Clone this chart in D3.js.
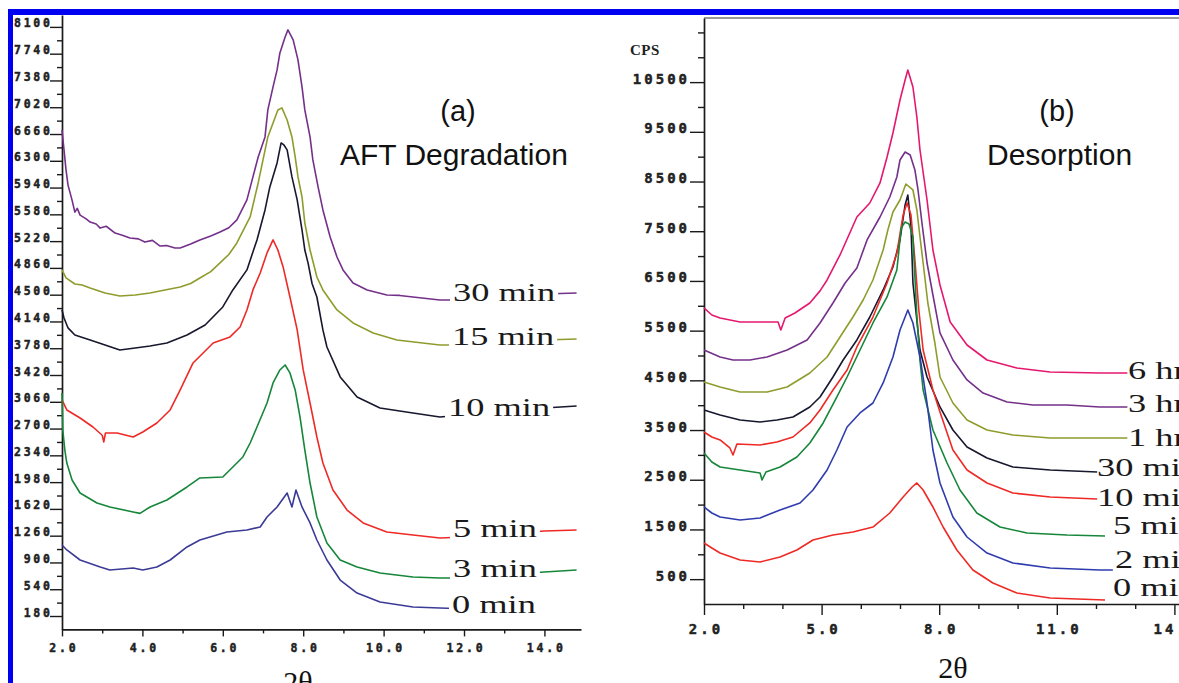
<!DOCTYPE html>
<html><head><meta charset="utf-8">
<script src="https://cdn.jsdelivr.net/npm/d3@7"></script>
<style>body{margin:0;background:#fff;} svg{display:block;}</style>
</head><body>
<svg id="c" width="1179" height="683"></svg>
<script>
// ---------- Panel (a): AFT Degradation ----------
const aftLabels = ["30 min","15 min","10 min","5 min","3 min","0 min"];
const aftColors = ["#74308a","#8f9c2c","#17172e","#ee2a26","#16863a","#3b3b97"];
const aft30 = [[2.0,6716],[2.05,6447],[2.1,6178],[2.15,5973],[2.25,5771],[2.32,5610],[2.38,5660],[2.45,5570],[2.6,5520],[2.7,5476],[2.85,5450],[2.95,5395],[3.1,5420],[3.32,5328],[3.5,5300],[3.69,5261],[3.9,5250],[4.06,5207],[4.25,5230],[4.44,5154],[4.6,5160],[4.81,5127],[4.94,5128],[5.2,5180],[5.43,5236],[5.7,5290],[5.93,5343],[6.15,5400],[6.35,5505],[6.6,5774],[6.73,6043],[6.88,6352],[7.05,6621],[7.12,6984],[7.25,7293],[7.35,7522],[7.42,7750],[7.55,7965],[7.62,8060],[7.75,7925],[7.87,7656],[7.97,7293],[8.04,6984],[8.17,6621],[8.24,6312],[8.37,5949],[8.49,5639],[8.67,5276],[8.84,5007],[8.99,4833],[9.24,4658],[9.59,4564],[10.08,4496],[10.4,4490],[10.73,4469],[11.4,4429],[12,4429],[13,4469],[14,4510],[14.8,4523]];
const aft15 = [[2.0,4833],[2.1,4725],[2.32,4644],[2.5,4630],[2.7,4590],[3.07,4523],[3.44,4483],[3.82,4496],[4.19,4523],[4.56,4564],[4.94,4604],[5.2,4650],[5.43,4725],[5.7,4810],[5.93,4927],[6.15,5040],[6.35,5195],[6.68,5545],[6.88,6002],[7.0,6312],[7.12,6621],[7.25,6809],[7.37,6984],[7.47,7011],[7.6,6849],[7.72,6621],[7.8,6352],[7.87,6083],[7.97,5814],[8.04,5464],[8.17,5101],[8.34,4738],[8.49,4564],[8.84,4295],[9.24,4120],[9.74,3985],[10.33,3891],[11.4,3824],[12,3824],[13,3851],[14,3891],[14.8,3905]];
const aft10 = [[2.0,4295],[2.05,4187],[2.15,4053],[2.32,3958],[2.7,3891],[3.07,3824],[3.44,3757],[3.82,3784],[4.19,3811],[4.61,3851],[5.11,3958],[5.56,4093],[6.0,4335],[6.25,4564],[6.6,4833],[6.85,5236],[7.05,5639],[7.17,5949],[7.35,6271],[7.45,6540],[7.52,6513],[7.6,6446],[7.72,6083],[7.85,5774],[7.97,5370],[8.04,5100],[8.12,4927],[8.22,4650],[8.34,4469],[8.49,4026],[8.59,3797],[8.92,3394],[9.34,3125],[9.91,2977],[10.73,2910],[11.4,2856],[12,2883],[13,2937],[14,2977],[14.8,3004]];
const aft5 = [[2.0,3085],[2.12,2950],[2.45,2842],[2.77,2721],[3.0,2610],[3.04,2520],[3.08,2640],[3.37,2641],[3.77,2587],[4.01,2654],[4.36,2775],[4.69,2950],[4.94,3219],[5.26,3582],[5.76,3851],[6.18,3932],[6.43,4066],[6.6,4295],[6.75,4564],[6.93,4792],[7.1,5061],[7.25,5236],[7.37,5101],[7.5,4873],[7.67,4469],[7.85,4026],[8.0,3488],[8.17,3044],[8.34,2587],[8.49,2237],[8.74,1874],[9.09,1605],[9.49,1431],[10.08,1310],[10.73,1269],[11.4,1229],[12,1242],[13,1283],[14,1323],[14.8,1337]];
const aft3 = [[2.0,3179],[2.02,2681],[2.07,2412],[2.12,2237],[2.25,2009],[2.45,1834],[2.87,1700],[3.19,1646],[3.77,1579],[3.94,1560],[4.19,1646],[4.61,1740],[5.11,1915],[5.43,2036],[6.0,2049],[6.5,2318],[6.68,2506],[6.85,2721],[7.1,3044],[7.25,3313],[7.42,3488],[7.55,3555],[7.67,3448],[7.8,3219],[7.92,2856],[8.04,2412],[8.17,1968],[8.34,1511],[8.59,1162],[8.92,933],[9.34,839],[9.91,758],[10.73,705],[11.4,691],[12,691],[13,732],[14,772],[14.8,799]];
const aft0 = [[2.0,1135],[2.12,1068],[2.45,933],[2.95,839],[3.19,799],[3.77,826],[4.01,799],[4.36,839],[4.69,933],[5.11,1108],[5.43,1202],[6.1,1310],[6.6,1337],[6.93,1377],[7.1,1511],[7.35,1646],[7.6,1834],[7.72,1646],[7.82,1874],[7.97,1646],[8.17,1431],[8.34,1202],[8.59,933],[8.92,664],[9.34,489],[9.91,368],[10.73,301],[11.4,288],[11.75,280]];
const aftSeries = [aft30, aft15, aft10, aft5, aft3, aft0];
const aftYTicks = [180,540,900,1260,1620,1980,2340,2700,3060,3420,3780,4140,4500,4860,5220,5580,5940,6300,6660,7020,7380,7740,8100];
const aftXTicks = [2,4,6,8,10,12,14];
const aftXMinor = [3,5,7,9,11,13];

// ---------- Panel (b): Desorption ----------
const desLabels = ["6 hr","3 hr","1 hr","30 min","10 min","5 min","2 min","0 min"];
const desColors = ["#e5186f","#74308a","#8f9c2c","#17172e","#ee2a26","#16863a","#2e3cae","#ee2a26"];
const des6h = [[2.0,5956],[2.2,5815],[2.41,5754],[2.92,5674],[3.43,5674],[3.89,5674],[3.96,5513],[4.07,5754],[4.32,5855],[4.7,6056],[4.96,6300],[5.14,6519],[5.47,7022],[5.9,7786],[6.23,8068],[6.49,8471],[6.67,8994],[6.82,9477],[7.0,10140],[7.13,10543],[7.2,10744],[7.33,10402],[7.43,9798],[7.51,9134],[7.69,8128],[7.84,7122],[8.02,6418],[8.28,5674],[8.71,5211],[9.22,4909],[9.98,4748],[10.83,4668],[12.1,4648],[12.8,4648]];
const des3h = [[2.0,5110],[2.41,4970],[2.74,4909],[3.17,4909],[3.61,4970],[4.12,5110],[4.63,5312],[4.96,5654],[5.29,6056],[5.6,6459],[5.9,6760],[6.16,7324],[6.49,7786],[6.74,8189],[6.92,8591],[7.0,8933],[7.13,9094],[7.26,9034],[7.38,8732],[7.46,8330],[7.56,7666],[7.69,6861],[7.84,6217],[8.02,5453],[8.35,4909],[8.71,4507],[9.12,4245],[9.73,4064],[10.39,4004],[11.26,4004],[12.1,3964],[12.8,3964]];
const des1h = [[2.0,4467],[2.41,4366],[2.92,4265],[3.61,4265],[4.12,4366],[4.7,4648],[5.14,4970],[5.47,5372],[5.8,5774],[6.06,6116],[6.31,6519],[6.57,7122],[6.69,7525],[6.82,7887],[7.0,8128],[7.15,8450],[7.33,8330],[7.43,7927],[7.51,7384],[7.59,6861],[7.71,6056],[7.89,5251],[8.02,4567],[8.35,4044],[8.71,3702],[9.22,3501],[9.88,3400],[10.83,3340],[12.1,3340],[12.8,3340]];
const des30 = [[2.0,3903],[2.41,3803],[2.92,3702],[3.43,3662],[3.86,3702],[4.27,3762],[4.7,3964],[4.96,4165],[5.29,4567],[5.55,4909],[5.9,5312],[6.23,5774],[6.57,6318],[6.82,6780],[7.0,7324],[7.13,8028],[7.2,8229],[7.28,7600],[7.33,6459],[7.51,5110],[7.69,4567],[8.02,3964],[8.35,3501],[8.71,3159],[9.22,2938],[9.88,2756],[10.83,2696],[12.03,2656]];
const des10 = [[2.0,3461],[2.2,3360],[2.41,3300],[2.66,3139],[2.74,2998],[2.84,3219],[3.43,3199],[3.86,3259],[4.27,3360],[4.7,3642],[4.96,3903],[5.29,4306],[5.65,4708],[5.9,5171],[6.31,5774],[6.67,6459],[6.92,7062],[7.08,7827],[7.18,8068],[7.28,7827],[7.38,6921],[7.48,5915],[7.59,5110],[7.84,4306],[8.02,3863],[8.35,3098],[8.71,2696],[9.22,2435],[9.88,2233],[10.83,2153],[12.03,2113]];
const des5 = [[2.0,3038],[2.2,2857],[2.41,2756],[2.92,2696],[3.43,2636],[3.48,2495],[3.58,2656],[3.94,2756],[4.37,2958],[4.7,3239],[5.04,3642],[5.39,4165],[5.65,4567],[5.98,5110],[6.31,5654],[6.67,6177],[6.92,6720],[7.03,7565],[7.13,7686],[7.23,7646],[7.33,7384],[7.43,5800],[7.51,4900],[7.59,4306],[7.84,3501],[8.2,2837],[8.53,2294],[8.96,1831],[9.55,1549],[10.24,1429],[11.26,1388],[12.23,1368]];
const des2 = [[2.0,1952],[2.2,1831],[2.41,1750],[2.92,1690],[3.43,1730],[3.94,1891],[4.45,2032],[4.78,2294],[5.14,2696],[5.39,3098],[5.65,3561],[5.98,3843],[6.31,4044],[6.57,4447],[6.82,4970],[7.0,5513],[7.13,5774],[7.2,5915],[7.33,5654],[7.51,4970],[7.69,4044],[7.84,3098],[8.02,2435],[8.35,1750],[8.71,1348],[9.22,1026],[9.88,825],[10.83,724],[12.1,684],[12.43,684]];
const des0 = [[2.0,1227],[2.2,1127],[2.41,1026],[2.92,885],[3.43,845],[3.94,946],[4.37,1086],[4.78,1288],[5.29,1388],[5.8,1449],[6.31,1549],[6.74,1831],[7.08,2153],[7.31,2354],[7.43,2435],[7.59,2294],[7.84,1952],[8.1,1549],[8.45,1086],[8.86,684],[9.37,423],[9.98,221],[10.83,121],[12.23,80]];
const desSeries = [des6h, des3h, des1h, des30, des10, des5, des2, des0];
const desYTicks = [500,1500,2500,3500,4500,5500,6500,7500,8500,9500,10500];
const desYMinor = [1000,2000,3000,4000,5000,6000,7000,8000,9000,10000,11000,11500];
const desXTicks = [2,5,8,11,14];
const desXMinor = [3,4,6,7,9,10,12,13];

// ---------- drawing ----------
const svg = d3.select('#c');
const tickFont = "'DejaVu Sans Mono', monospace";

const xA = d3.scaleLinear().domain([2, 14.91]).range([62, 581]);
const yA = d3.scaleLinear().domain([0, 8260]).range([629.4, 15]);
const xB = d3.scaleLinear().domain([2, 14.75]).range([704, 1203.8]);
const yB = d3.scaleLinear().domain([0, 11790]).range([604, 18]);

function styleAxis(g) {
  g.selectAll('path.domain').attr('stroke', '#1a1a1a').attr('stroke-width', 1.7);
  g.selectAll('.tick line').attr('stroke', '#1a1a1a').attr('stroke-width', 1.4);
}
function styleTickText(sel, size, spacing) {
  sel.style('font-family', tickFont).style('font-weight', 'bold').style('font-size', size + 'px')
    .style('letter-spacing', spacing + 'px').attr('fill', '#222')
    .attr('stroke', '#222').attr('stroke-width', 0.45);
}

// Panel A axes
const gAy = svg.append('g').attr('transform', 'translate(62,0)')
  .call(d3.axisLeft(yA).tickValues(aftYTicks).tickSize(12).tickSizeOuter(0).tickFormat(d => d));
styleAxis(gAy);
gAy.selectAll('.tick text').attr('x', -12 + 2.8).attr('dy', 0).attr('y', 0).call(styleTickText, 11.5, 2.8);
const gAyM = svg.append('g').attr('transform', 'translate(62,0)')
  .call(d3.axisLeft(yA).tickValues(d3.range(360, 8000, 360)).tickSize(5).tickSizeOuter(0).tickFormat(''));
styleAxis(gAyM); gAyM.select('path.domain').remove();

const gAx = svg.append('g').attr('transform', 'translate(0,629.4)')
  .call(d3.axisBottom(xA).tickValues(aftXTicks).tickSize(7).tickSizeOuter(0).tickFormat(d3.format('.1f')));
styleAxis(gAx);
gAx.selectAll('.tick text').attr('y', 23).attr('dy', 0).attr('x', 1.4).call(styleTickText, 11.5, 2.8);
const gAxM = svg.append('g').attr('transform', 'translate(0,629.4)')
  .call(d3.axisBottom(xA).tickValues(aftXMinor).tickSize(4).tickSizeOuter(0).tickFormat(''));
styleAxis(gAxM); gAxM.select('path.domain').remove();

// Panel B axes
const gBy = svg.append('g').attr('transform', 'translate(704,0)')
  .call(d3.axisLeft(yB).tickValues(desYTicks).tickSize(14).tickSizeOuter(0).tickFormat(d => d));
styleAxis(gBy);
gBy.selectAll('.tick text').attr('x', -17 + 3.0).attr('dy', 0).attr('y', 1).call(styleTickText, 14, 3.0);
const gByM = svg.append('g').attr('transform', 'translate(704,0)')
  .call(d3.axisLeft(yB).tickValues(desYMinor).tickSize(6).tickSizeOuter(0).tickFormat(''));
styleAxis(gByM); gByM.select('path.domain').remove();

const gBx = svg.append('g').attr('transform', 'translate(0,604)')
  .call(d3.axisBottom(xB).tickValues(desXTicks).tickSize(11).tickSizeOuter(0).tickFormat(d3.format('.1f')));
styleAxis(gBx);
gBx.selectAll('.tick text').attr('y', 30).attr('dy', 0).attr('x', 1.5).call(styleTickText, 14, 3.0);
const gBxM = svg.append('g').attr('transform', 'translate(0,604)')
  .call(d3.axisBottom(xB).tickValues(desXMinor).tickSize(5).tickSizeOuter(0).tickFormat(''));
styleAxis(gBxM); gBxM.select('path.domain').remove();

// top frame line of panel b
svg.append('line').attr('x1', 704).attr('x2', 1179).attr('y1', 18).attr('y2', 18)
  .attr('stroke', '#333').attr('stroke-width', 1);

svg.append('text').attr('x', 630).attr('y', 55).text('CPS')
  .style('font-family', "'Liberation Serif', serif").style('font-weight', 'bold').style('font-size', '15px')
  .style('letter-spacing', '0.5px').attr('fill', '#222');

// Curves
const lineA = d3.line().x(d => xA(d[0])).y(d => yA(d[1]));
const lineB = d3.line().x(d => xB(d[0])).y(d => yB(d[1]));
svg.append('g').selectAll('path').data(aftSeries).join('path')
  .attr('d', lineA).attr('fill', 'none').attr('stroke', (d, i) => aftColors[i])
  .attr('stroke-width', 1.6).attr('stroke-linejoin', 'round');
svg.append('g').selectAll('path').data(desSeries).join('path')
  .attr('d', lineB).attr('fill', 'none').attr('stroke', (d, i) => desColors[i])
  .attr('stroke-width', 1.6).attr('stroke-linejoin', 'round');

// Legend labels
const serif = "'Liberation Serif', 'Times New Roman', serif";
const aftLabelPos = [[453,301],[452,345],[448,416],[453,537],[453,577],[452,613]];
const desLabelPos = [[1128,379],[1128,412],[1128,446],[1097,476],[1097,506],[1113,534],[1115,568],[1113,596]];
function addLabels(labels, pos, withBg) {
  labels.forEach((t, i) => {
    const g = svg.append('g').attr('transform', `translate(${pos[i][0]},${pos[i][1]})`);
    const bg = g.append('rect').attr('fill', '#fff');
    const txt = g.append('text').attr('transform', 'scale(1.4,1)').text(t)
      .style('font-family', serif).style('font-size', '26px').attr('fill', '#1a1a1a');
    if (withBg) {
      const w = txt.node().getComputedTextLength() * 1.4;
      bg.attr('x', -3).attr('y', -21).attr('width', w + 6).attr('height', 27);
    } else bg.remove();
  });
}
addLabels(aftLabels, aftLabelPos, true);
addLabels(desLabels, desLabelPos, false);

// Titles
const sans = "'Liberation Sans', Arial, sans-serif";
svg.append('text').attr('x', 458).attr('y', 121).attr('text-anchor', 'middle').text('(a)')
  .style('font-family', sans).style('font-size', '29px').attr('fill', '#111');
svg.append('text').attr('x', 340).attr('y', 165).text('AFT Degradation')
  .style('font-family', sans).style('font-size', '30px').attr('fill', '#111');
svg.append('text').attr('x', 1057).attr('y', 121).attr('text-anchor', 'middle').text('(b)')
  .style('font-family', sans).style('font-size', '29px').attr('fill', '#111');
svg.append('text').attr('x', 987).attr('y', 165).text('Desorption')
  .style('font-family', sans).style('font-size', '30px').attr('fill', '#111');

// x-axis titles
svg.append('text').attr('x', 298).attr('y', 692).attr('text-anchor', 'middle').text('2θ')
  .style('font-family', serif).style('font-size', '30px').attr('fill', '#111');
svg.append('text').attr('x', 953).attr('y', 678).attr('text-anchor', 'middle').text('2θ')
  .style('font-family', serif).style('font-size', '30px').attr('fill', '#111');

// Blue frame
svg.append('rect').attr('x', 8).attr('y', 9).attr('width', 5).attr('height', 674).attr('fill', '#0000f0');
svg.append('rect').attr('x', 8).attr('y', 9).attr('width', 1171).attr('height', 6).attr('fill', '#0000f0');
</script>
</body></html>
